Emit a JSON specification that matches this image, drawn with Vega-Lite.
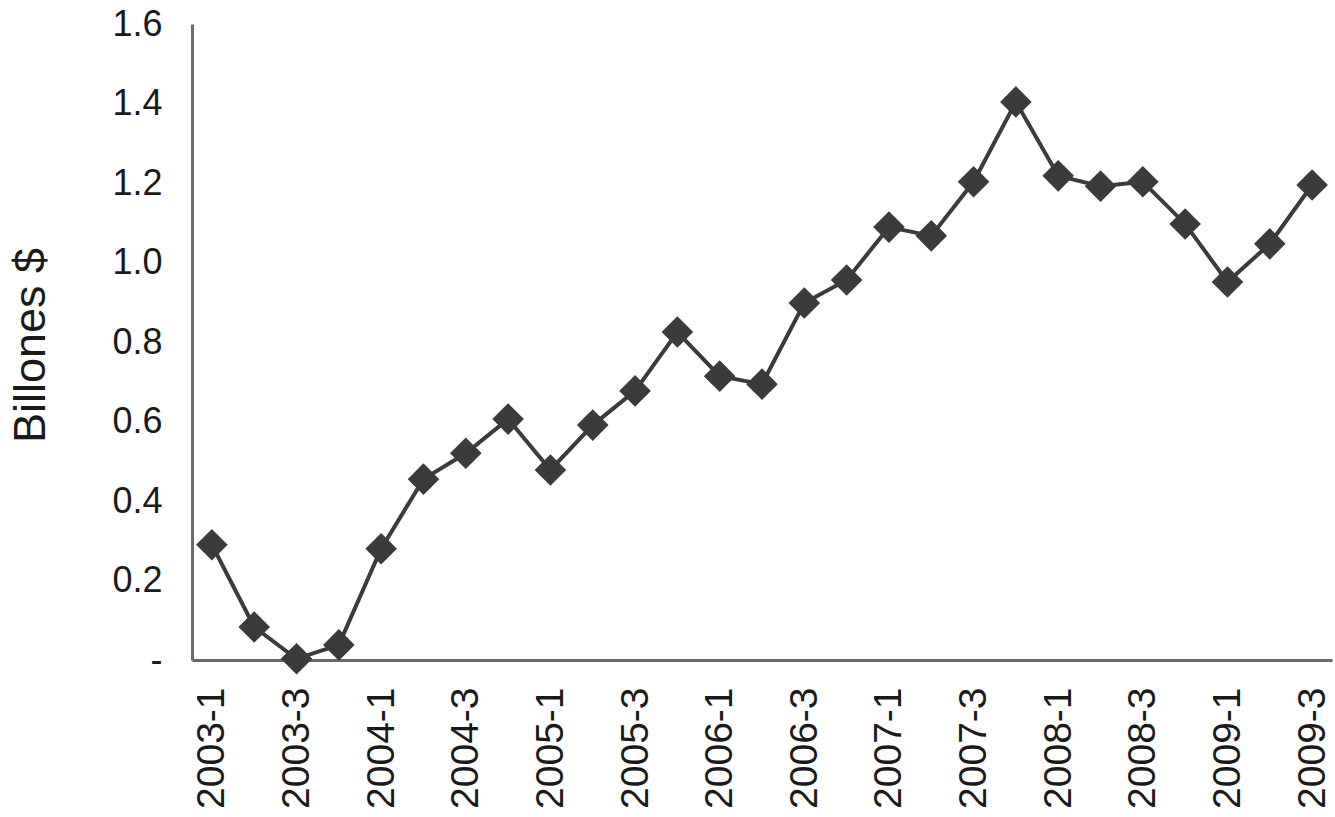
{
  "$schema": "https://vega.github.io/schema/vega-lite/v6.json",
  "autosize": "none",
  "width": 1140,
  "height": 636,
  "padding": {"left": 192, "top": 24, "right": 3, "bottom": 157},
  "background": "white",
  "config": {
    "view": {"stroke": null},
    "font": "Liberation Sans"
  },
  "data": {
    "values": [
      {"q": "2003-1", "v": 0.29},
      {"q": "2003-2", "v": 0.083},
      {"q": "2003-3", "v": 0.003},
      {"q": "2003-4", "v": 0.038},
      {"q": "2004-1", "v": 0.28},
      {"q": "2004-2", "v": 0.455},
      {"q": "2004-3", "v": 0.52},
      {"q": "2004-4", "v": 0.606},
      {"q": "2005-1", "v": 0.478},
      {"q": "2005-2", "v": 0.591},
      {"q": "2005-3", "v": 0.677},
      {"q": "2005-4", "v": 0.825},
      {"q": "2006-1", "v": 0.714},
      {"q": "2006-2", "v": 0.694},
      {"q": "2006-3", "v": 0.898},
      {"q": "2006-4", "v": 0.956},
      {"q": "2007-1", "v": 1.089},
      {"q": "2007-2", "v": 1.067},
      {"q": "2007-3", "v": 1.203},
      {"q": "2007-4", "v": 1.404},
      {"q": "2008-1", "v": 1.218},
      {"q": "2008-2", "v": 1.192},
      {"q": "2008-3", "v": 1.203},
      {"q": "2008-4", "v": 1.097},
      {"q": "2009-1", "v": 0.951},
      {"q": "2009-2", "v": 1.047},
      {"q": "2009-3", "v": 1.195}
    ]
  },
  "encoding": {
    "x": {
      "field": "q",
      "type": "ordinal",
      "sort": null,
      "scale": {"type": "point", "padding": 0.47},
      "axis": {
        "title": null,
        "values": ["2003-1","2003-3","2004-1","2004-3","2005-1","2005-3","2006-1","2006-3","2007-1","2007-3","2008-1","2008-3","2009-1","2009-3"],
        "labelAngle": -90,
        "labelAlign": "right",
        "labelBaseline": "middle",
        "labelFontSize": 39,
        "labelColor": "#1a1a1a",
        "labelPadding": 27,
        "ticks": false,
        "grid": false,
        "domainColor": "#6a6a6a",
        "domainWidth": 3,
        "labelOverlap": false
      }
    },
    "y": {
      "field": "v",
      "type": "quantitative",
      "scale": {"domain": [0, 1.6], "nice": false},
      "axis": {
        "title": "Billones $",
        "titleFontSize": 45,
        "titleFontWeight": "normal",
        "titleColor": "#1a1a1a",
        "titleX": -162,
        "titleY": 321,
        "titleBaseline": "middle",
        "titleAngle": -90,
        "values": [0, 0.2, 0.4, 0.6, 0.8, 1.0, 1.2, 1.4, 1.6],
        "labelExpr": "datum.value == 0 ? '-' : format(datum.value, '.1f')",
        "labelFontSize": 36,
        "labelColor": "#1a1a1a",
        "labelPadding": 30,
        "ticks": false,
        "grid": false,
        "domainColor": "#6a6a6a",
        "domainWidth": 3
      }
    }
  },
  "layer": [
    {"mark": {"type": "line", "color": "#3b3b3d", "strokeWidth": 4, "clip": false}},
    {"mark": {"type": "point", "shape": "diamond", "filled": true, "size": 1000, "color": "#3b3b3d", "opacity": 1, "clip": false}}
  ]
}
